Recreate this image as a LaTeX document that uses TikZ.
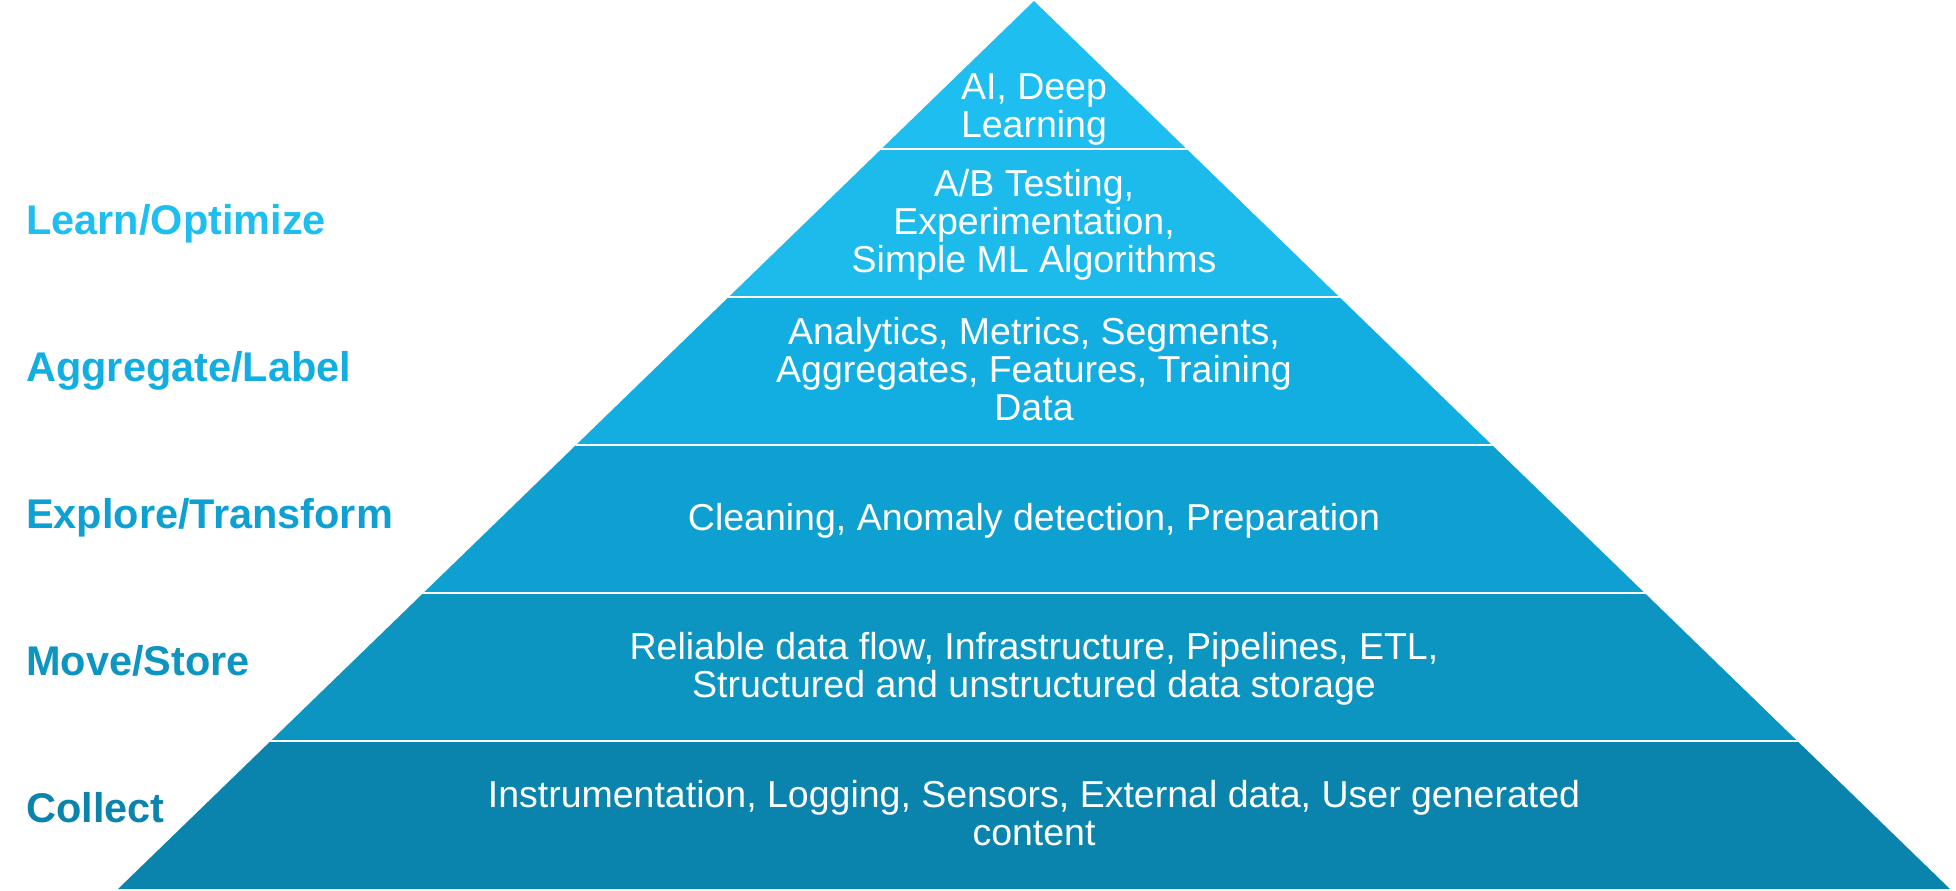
\documentclass[tikz,border=0pt]{standalone}
\usepackage{fontspec}
\setmainfont{Liberation Sans}
\definecolor{ca}{HTML}{1EBEF0}
\definecolor{cb}{HTML}{1DBBEC}
\definecolor{cc}{HTML}{12AEE2}
\definecolor{cd}{HTML}{0FA0D2}
\definecolor{ce}{HTML}{0C95C1}
\definecolor{cf}{HTML}{0B84AD}
\tikzset{
  layertext/.style={text=white, align=center, anchor=base, inner sep=0pt,
    font=\fontsize{37.5}{38}\selectfont},
  sidelabel/.style={anchor=base west, inner sep=0pt,
    font=\bfseries\fontsize{41.5}{48}\selectfont},
  sep/.style={white, line width=2.5pt}
}
\begin{document}
\begin{tikzpicture}[x=1pt,y=-1pt]
\useasboundingbox (0,0) rectangle (1956,891);
\coordinate (apex) at (1034,1);
\coordinate (bl) at (118,889);
\coordinate (br) at (1950,889);
\begin{scope}
  \clip (apex) -- (bl) -- (br) -- cycle;
  \fill[ca] (0,0) rectangle (1956,149);
  \fill[cb] (0,149) rectangle (1956,297);
  \fill[cc] (0,297) rectangle (1956,445);
  \fill[cd] (0,445) rectangle (1956,593);
  \fill[ce] (0,593) rectangle (1956,741);
  \fill[cf] (0,741) rectangle (1956,891);
  \foreach \y in {149,297,445,593,741}
    \draw[sep] (0,\y) -- (1956,\y);
\end{scope}
\node[layertext] (t1) at (1034,137) {AI, Deep\\Learning};
\node[layertext] (t2) at (1034,272) {A/B Testing,\\Experimentation,\\Simple ML Algorithms};
\node[layertext] (t3) at (1034,420) {Analytics, Metrics, Segments,\\Aggregates, Features, Training\\Data};
\node[layertext] (t4) at (1034,530) {Cleaning, Anomaly detection, Preparation};
\node[layertext] (t5) at (1034,697) {Reliable data flow, Infrastructure, Pipelines, ETL,\\Structured and unstructured data storage};
\node[layertext] (t6) at (1034,845) {Instrumentation, Logging, Sensors, External data, User generated\\content};
\node[sidelabel, text=ca] (l1) at (26,234) {Learn/Optimize};
\node[sidelabel, text=cc] (l2) at (26,381) {Aggregate/Label};
\node[sidelabel, text=cd] (l3) at (26,528) {Explore/Transform};
\node[sidelabel, text=ce] (l4) at (26,675) {Move/Store};
\node[sidelabel, text=cf] (l5) at (26,822) {Collect};
\end{tikzpicture}
\end{document}
